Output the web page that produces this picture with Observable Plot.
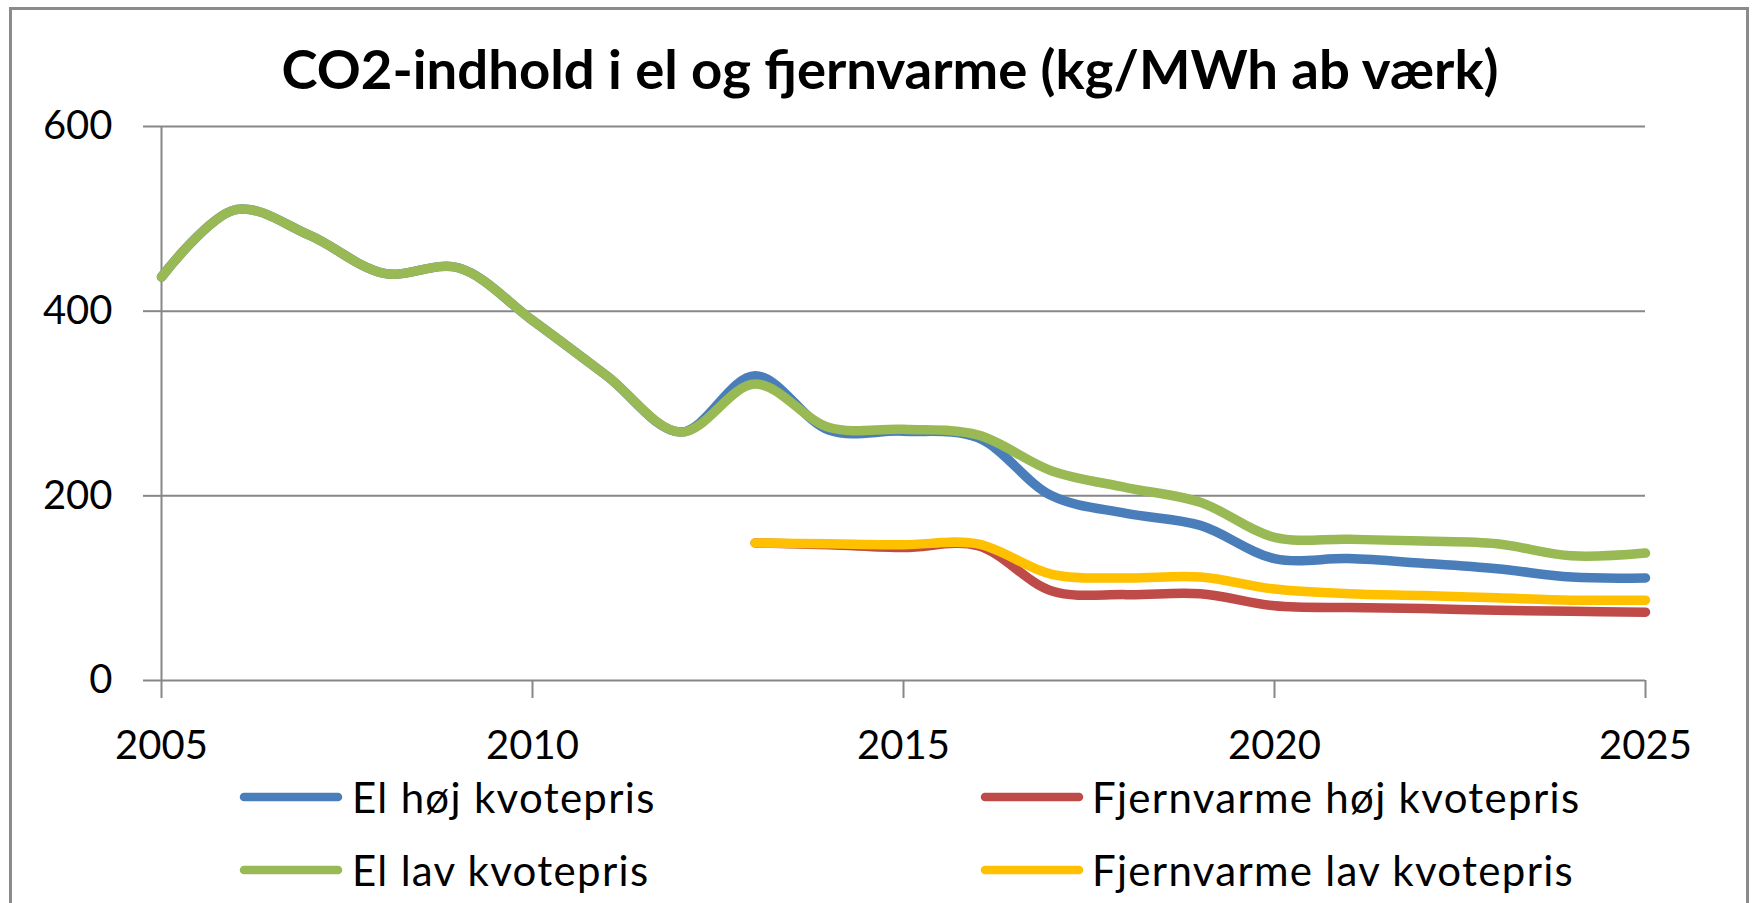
<!DOCTYPE html>
<html>
<head>
<meta charset="utf-8">
<script src="https://cdn.jsdelivr.net/npm/d3@7"></script>
<script src="https://cdn.jsdelivr.net/npm/@observablehq/plot@0.6"></script>
<style>
  html, body { margin: 0; padding: 0; background: #fff; }
  #page { position: relative; width: 1752px; height: 903px; overflow: hidden; background: #fff; font-family: Lato, "Open Sans", sans-serif; }
  #frame { position: absolute; left: 9px; top: 7px; width: 1734px; height: 894px; border-left: 3px solid #8b8b8b; border-top: 3px solid #8b8b8b; border-right: 3px solid #8b8b8b; border-bottom: 2px solid #d9d9d9; }
  #title { position: absolute; left: 0; top: 0; }
  #chart { position: absolute; left: 0; top: 100px; }
  #legend { position: absolute; left: 0; top: 770px; }
</style>
</head>
<body>
<div id="page">
  <div id="frame"></div>
  <svg id="title" width="1752" height="100"></svg>
  <div id="chart"></div>
  <svg id="legend" width="1752" height="133"></svg>
</div>
<script>
const titleText = "CO2-indhold i el og fjernvarme (kg/MWh ab værk)";
const years = [2005, 2006, 2007, 2008, 2009, 2010, 2011, 2012, 2013, 2014, 2015, 2016, 2017, 2018, 2019, 2020, 2021, 2022, 2023, 2024, 2025];
const fjYears = [2013, 2014, 2015, 2016, 2017, 2018, 2019, 2020, 2021, 2022, 2023, 2024, 2025];
const elHoj = [437, 510, 482, 441, 447, 390, 330, 269, 330, 271, 270, 263, 200, 181, 168, 132, 132, 127, 121, 112, 111];
const elLav = [437, 510, 482, 441, 447, 390, 330, 269, 321, 274, 272, 266, 227, 209, 193, 155, 153, 151, 148, 135, 138];
const fjHoj = [149, 147, 144, 146, 97, 93, 94, 81, 79, 78, 76, 75, 74];
const fjLav = [149, 148, 147, 148, 115, 111, 112, 99, 94, 92, 89.5, 87, 87];
const seriesNames = ["El høj kvotepris", "Fjernvarme høj kvotepris", "El lav kvotepris", "Fjernvarme lav kvotepris"];
const seriesColors = ["#4a7ebb", "#be4b48", "#98b954", "#ffc000"];
const xTicks = [2005, 2010, 2015, 2020, 2025];
const yTicks = [0, 200, 400, 600];

const toRows = (xs, vs) => xs.map((x, i) => ({year: x, value: vs[i]}));
const seriesData = [toRows(years, elHoj), toRows(fjYears, fjHoj), toRows(years, elLav), toRows(fjYears, fjLav)];

const gridColor = "#878787";

const lines = seriesData.map((rows, i) => Plot.line(rows, {
  x: "year", y: "value", stroke: seriesColors[i], strokeWidth: 9.5,
  curve: "catmull-rom", strokeLinecap: "round", strokeLinejoin: "round"
}));

const plot = Plot.plot({
  width: 1752,
  height: 670,
  marginLeft: 161,
  marginRight: 107,
  marginTop: 26,
  marginBottom: 90,
  style: {fontFamily: "Lato, 'Open Sans', sans-serif", fontSize: "40px", background: "transparent", color: "#000"},
  x: {domain: [2005, 2025]},
  y: {domain: [0, 600]},
  marks: [
    Plot.gridY(yTicks.filter(d => d > 0), {stroke: gridColor, strokeOpacity: 1, strokeWidth: 2}),
    Plot.ruleY([0], {stroke: gridColor, strokeWidth: 2}),
    Plot.ruleX([2005], {y1: 0, y2: 600, stroke: gridColor, strokeWidth: 2}),
    Plot.axisY({ticks: yTicks, tickSize: 18, tickPadding: 31, stroke: gridColor, strokeWidth: 2, fill: "#000", fontSize: 40, label: null}),
    Plot.axisX({ticks: xTicks, tickSize: 18, tickPadding: 32, tickFormat: d => String(d), stroke: gridColor, strokeWidth: 2, fill: "#000", fontSize: 40, label: null}),
    ...lines
  ]
});
document.getElementById("chart").appendChild(plot);

// Title
const ns = "http://www.w3.org/2000/svg";
const t = document.createElementNS(ns, "text");
t.setAttribute("x", 890);
t.setAttribute("y", 89);
t.setAttribute("text-anchor", "middle");
t.setAttribute("font-family", "Lato, 'Open Sans', sans-serif");
t.setAttribute("font-weight", "bold");
t.setAttribute("font-size", "53");
t.setAttribute("textLength", "1217");
t.setAttribute("lengthAdjust", "spacingAndGlyphs");
t.textContent = titleText;
document.getElementById("title").appendChild(t);

// Legend (row-major, two columns)
const legend = document.getElementById("legend");
const legendPos = [
  {sx: 240, tx: 352, y: 27},
  {sx: 981, tx: 1092, y: 27},
  {sx: 240, tx: 352, y: 100},
  {sx: 981, tx: 1092, y: 100}
];
seriesNames.forEach((name, i) => {
  const p = legendPos[i];
  const l = document.createElementNS(ns, "line");
  l.setAttribute("x1", p.sx + 4); l.setAttribute("x2", p.sx + 98);
  l.setAttribute("y1", p.y); l.setAttribute("y2", p.y);
  l.setAttribute("stroke", seriesColors[i]);
  l.setAttribute("stroke-width", 8.5);
  l.setAttribute("stroke-linecap", "round");
  legend.appendChild(l);
  const tx = document.createElementNS(ns, "text");
  tx.setAttribute("x", p.tx);
  tx.setAttribute("y", p.y + 16);
  tx.setAttribute("font-family", "Lato, 'Open Sans', sans-serif");
  tx.setAttribute("font-size", "42");
  tx.setAttribute("letter-spacing", "1.3");
  tx.setAttribute("fill", "#000");
  tx.textContent = name;
  legend.appendChild(tx);
});
</script>
</body>
</html>
